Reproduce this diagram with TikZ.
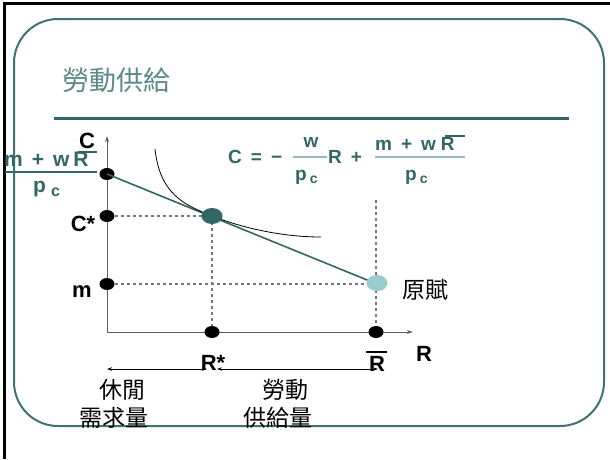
\documentclass[tikz,border=0pt]{standalone}
\usepackage{fontspec}
\setmainfont{Liberation Sans}
\newfontfamily\cjk{Noto Sans CJK TC}
\usetikzlibrary{arrows.meta,shapes.geometric}
\definecolor{teal1}{HTML}{336666}
\definecolor{tealbox}{HTML}{3F7373}
\definecolor{tealtitle}{HTML}{5A8A8A}
\definecolor{teallight}{HTML}{99CCCC}
\definecolor{fracl}{HTML}{99BBBB}
\definecolor{dashg}{HTML}{777777}
\tikzset{
  lbl/.style={font=\fontsize{22}{24}\selectfont\bfseries, text=black, inner sep=0pt, anchor=base},
  eq/.style={font=\fontsize{19}{21}\selectfont\bfseries, text=teal1, inner sep=0pt, anchor=base west},
  lf/.style={font=\fontsize{21}{23}\selectfont\bfseries, text=teal1, inner sep=0pt, anchor=base west},
  cj/.style={font=\cjk\fontsize{23}{25}\selectfont, text=black, inner sep=0pt},
  bdot/.style={ellipse, fill=black, inner sep=0pt, minimum width=15pt, minimum height=12pt},
  axis/.style={draw=dashg!80!black, line width=1pt},
  dsh/.style={draw=dashg, line width=1.1pt, dash pattern=on 3pt off 3pt},
  dim/.style={draw=black, line width=0.9pt, {Stealth[length=5pt,width=3.5pt]}-{Stealth[length=5pt,width=3.5pt]}},
}
\begin{document}
\begin{tikzpicture}[x=1pt,y=-1pt]
\useasboundingbox (0,0) rectangle (610,459);
\fill[white] (0,0) rectangle (610,459);
% black frame
\draw[black, line width=3pt] (4,459) -- (4,3.5) -- (610,3.5);
% rounded slide box
\draw[tealbox, line width=2pt, rounded corners=44pt] (14,19) rectangle (604,426);
% title
\node[font=\cjk\fontsize{27}{29}\selectfont, text=tealtitle, inner sep=0pt] (title) at (116,80) {勞動供給};
\draw[teal1, line width=3pt] (54,118) -- (569,118);

% axes
\coordinate (O) at (107,332);
\coordinate (Ytop) at (107,136);
\coordinate (Xend) at (413,332);
\draw[axis, -{Stealth[length=6pt,width=4pt]}] (O) -- (Ytop);
\draw[axis, -{Stealth[length=6pt,width=4pt]}] (O) -- (Xend);

% dots
\node[bdot] (A) at (107,174) {};
\node[bdot] (Cs) at (107,216) {};
\node[bdot] (M) at (107,284) {};
\node[bdot] (Rs) at (212,332) {};
\node[bdot] (Rb) at (376,332) {};
\coordinate (Rtop) at (376,200);

% dashed guides
\draw[dsh] (Cs) -- (212,216);
\draw[dsh] (212,216) -- (Rs);
\draw[dsh] (M) -- (376,284);
\draw[dsh] (Rtop) -- (Rb);

% budget line and indifference curve
\draw[teal1, line width=1.6pt] (A.center) -- (377,284);
\draw[black, line width=0.8pt] (155,149) .. controls (160,195) and (185,205) .. (212,216) .. controls (240,227) and (280,237) .. (321,237);

\node[ellipse, fill=teal1, inner sep=0pt, minimum width=21pt, minimum height=16pt] (E) at (212,216) {};
\node[ellipse, fill=teallight, inner sep=0pt, minimum width=21pt, minimum height=16pt] (End) at (377,283) {};

% axis labels
\node[lbl] (Clab) at (87,148) {C};
\node[lbl] (Cslab) at (83,231) {C*};
\node[lbl] (mlab) at (82,297) {m};
\node[lbl] (Rslab) at (213,370) {R*};
\node[lbl] (Rblab) at (377,371) {R};
\draw[black, line width=1.3pt] (366,352) -- (387,352);
\node[lbl] (Rax) at (424,361) {R};
\node[cj, anchor=west] (endow) at (402,290) {原賦};

% left fraction label
\node[lf] (lnum) at (4,166) {m\hspace{9pt}+\hspace{9pt}w\hspace{4pt}R};
\draw[teal1, line width=1.3pt] (78,152) -- (97,152);
\draw[teal1, line width=1.2pt] (5,172) -- (97,172);
\node[lf] (lden) at (33,192) {p\hspace{5pt}\raisebox{-4pt}{\fontsize{16}{16}\selectfont c}};

% equation
\node[eq] (eqC) at (228,163) {C\hspace{9pt}=\hspace{9pt}−};
\node[eq, anchor=base] (eqw) at (311,147) {w};
\draw[fracl, line width=1.2pt] (293,157) -- (327,157);
\node[eq] (eqp1) at (295,180) {p\hspace{3pt}\raisebox{-3pt}{\fontsize{14}{14}\selectfont c}};
\node[eq] (eqR) at (328,163) {R\hspace{9pt}+};
\node[eq] (eqnum) at (375,150) {m\hspace{9pt}+\hspace{9pt}w\hspace{5pt}R};
\draw[teal1, line width=1.3pt] (445,136) -- (465,136);
\draw[fracl, line width=1.2pt] (375,157) -- (465,157);
\node[eq] (eqp2) at (405,180) {p\hspace{3pt}\raisebox{-3pt}{\fontsize{14}{14}\selectfont c}};

% bottom arrows
\coordinate (L1) at (107,369);
\coordinate (L2) at (207,369);
\coordinate (L3) at (217,369);
\coordinate (L4) at (378,369);
\draw[dim] (L2) -- (L1);
\draw[dim] (L3) -- (L4);

\node[cj] (leis1) at (122,390) {休閒};
\node[cj] (leis2) at (114,418) {需求量};
\node[cj] (lab1) at (285,390) {勞動};
\node[cj] (lab2) at (278,418) {供給量};
\end{tikzpicture}
\end{document}
